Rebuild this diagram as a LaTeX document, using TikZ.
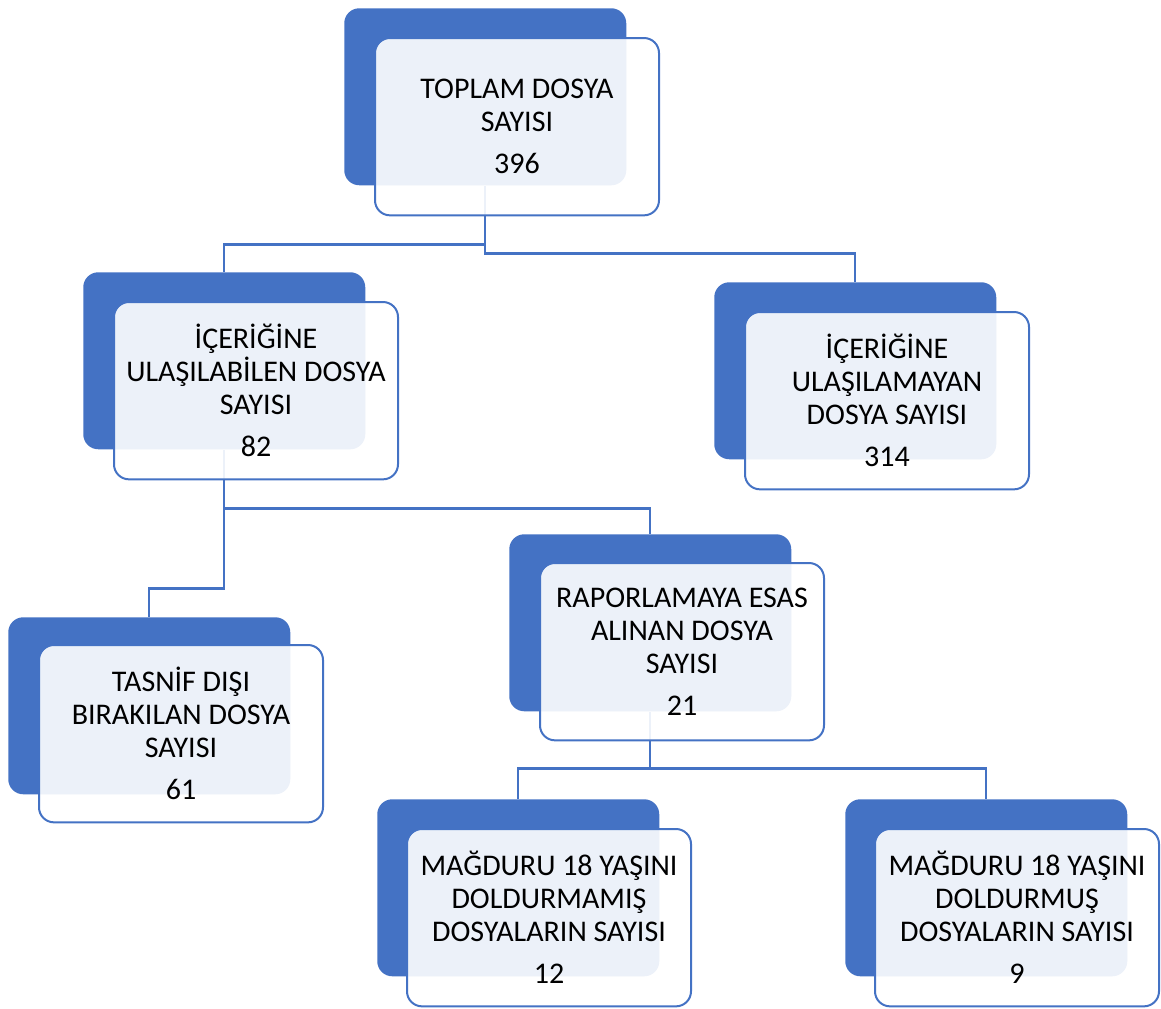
\documentclass[tikz,border=0pt]{standalone}
\usepackage{fontspec}
\setmainfont{Carlito}
\definecolor{acc}{HTML}{4472C4}
\begin{document}
\begin{tikzpicture}[x=0.75pt,y=-0.75pt,
  backbox/.style={rectangle,rounded corners=11.25pt,fill=acc,minimum width=211.5pt,minimum height=132.75pt,anchor=north west,inner sep=0pt},
  frontbox/.style={rectangle,rounded corners=11.25pt,fill=white,fill opacity=0.9,text opacity=1,draw=acc,draw opacity=1,line width=1.5pt,minimum width=213pt,minimum height=133pt,anchor=north west,align=center,font=\fontsize{22.5}{24.75}\selectfont,text=black,inner sep=0pt},
  conn/.style={draw=acc,line width=1.8pt}]
\useasboundingbox (0,0) rectangle (1161,1008);
% back boxes
\node[backbox] (rootB) at (344,8) {};
\node[backbox] (leftB) at (83,272) {};
\node[backbox] (rightB) at (714,282) {};
\node[backbox] (tasB) at (8,617) {};
\node[backbox] (rapB) at (509,534) {};
\node[backbox] (magaB) at (377,799) {};
\node[backbox] (magbB) at (845,799) {};
% connectors
\draw[conn] (rootB.south) -- ++(0,59) -| (leftB.north);
\draw[conn] (rootB.south) -- ++(0,68) -| (rightB.north);
\draw[conn] (leftB.south) -- ++(0,139) -| (tasB.north);
\draw[conn] (leftB.south) -- ++(0,59) -| (rapB.north);
\draw[conn] (rapB.south) -- ++(0,57) -| (magaB.north);
\draw[conn] (rapB.south) -- ++(0,57) -| (magbB.north);
% front boxes
\node[frontbox] (rootF) at ([shift={(30,29)}]rootB.north west) {TOPLAM DOSYA\\SAYISI\\[6.75pt]396};
\node[frontbox] (leftF) at ([shift={(30,29)}]leftB.north west) {İÇERİĞİNE\\ULAŞILABİLEN DOSYA\\SAYISI\\[6.75pt]82};
\node[frontbox] (rightF) at ([shift={(30,29)}]rightB.north west) {İÇERİĞİNE\\ULAŞILAMAYAN\\DOSYA SAYISI\\[6.75pt]314};
\node[frontbox] (tasF) at ([shift={(30,27)}]tasB.north west) {TASNİF DIŞI\\BIRAKILAN DOSYA\\SAYISI\\[6.75pt]61};
\node[frontbox] (rapF) at ([shift={(30,28)}]rapB.north west) {RAPORLAMAYA ESAS\\ALINAN DOSYA\\SAYISI\\[6.75pt]21};
\node[frontbox] (magaF) at ([shift={(29,29)}]magaB.north west) {MAĞDURU 18 YAŞINI\\DOLDURMAMIŞ\\DOSYALARIN SAYISI\\[6.75pt]12};
\node[frontbox] (magbF) at ([shift={(29,29)}]magbB.north west) {MAĞDURU 18 YAŞINI\\DOLDURMUŞ\\DOSYALARIN SAYISI\\[6.75pt]9};
\end{tikzpicture}
\end{document}
